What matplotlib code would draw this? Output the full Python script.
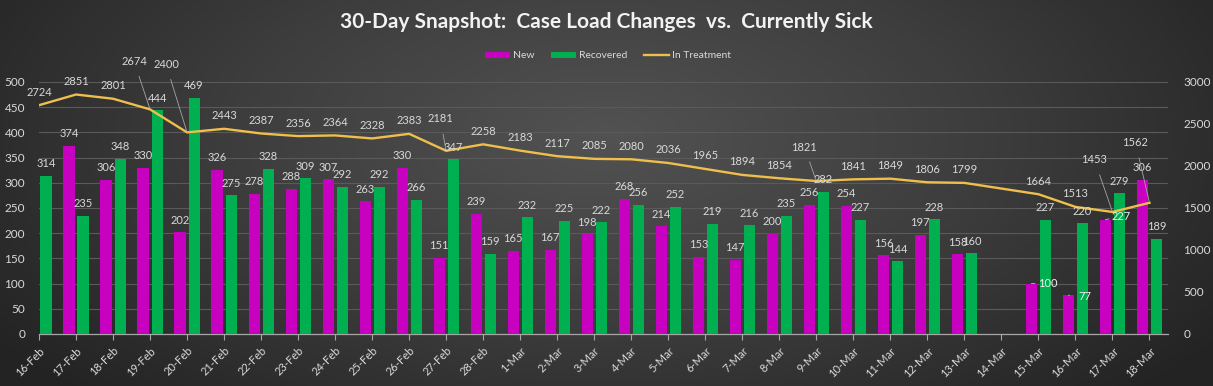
import numpy as np
import matplotlib
matplotlib.use("Agg")
import matplotlib.pyplot as plt
from matplotlib.colors import LinearSegmentedColormap
from matplotlib.patches import Patch
from matplotlib.lines import Line2D

# ---------------- data ----------------
dates = ["16-Feb", "17-Feb", "18-Feb", "19-Feb", "20-Feb", "21-Feb", "22-Feb", "23-Feb",
         "24-Feb", "25-Feb", "26-Feb", "27-Feb", "28-Feb", "1-Mar", "2-Mar", "3-Mar",
         "4-Mar", "5-Mar", "6-Mar", "7-Mar", "8-Mar", "9-Mar", "10-Mar", "11-Mar",
         "12-Mar", "13-Mar", "14-Mar", "15-Mar", "16-Mar", "17-Mar", "18-Mar"]
new_cases = [np.nan, 374, 306, 330, 202, 326, 278, 288, 307, 263, 330, 151, 239, 165, 167, 198,
             268, 214, 153, 147, 200, 256, 254, 156, 197, 158, np.nan, 100, 77, 227, 306]
recovered = [314, 235, 348, 444, 469, 275, 328, 309, 292, 292, 266, 347, 159, 232, 225, 222,
             256, 252, 219, 216, 235, 282, 227, 144, 228, 160, np.nan, 227, 220, 279, 189]
in_treatment = [2724, 2851, 2801, 2674, 2400, 2443, 2387, 2356, 2364, 2328, 2383, 2181, 2258,
                2183, 2117, 2085, 2080, 2036, 1965, 1894, 1854, 1821, 1841, 1849, 1806, 1799,
                np.nan, 1664, 1513, 1453, 1562]

# label placement tweaks (pixel offsets), styling only
line_label_offsets = {3: (-16, 48), 4: (-21, 68), 11: (-6, 32), 21: (-12, 34),
                      29: (-18, 52), 30: (-14, 60)}
new_label_offsets = {27: (16, 0), 28: (16, -1), 29: (16, 3)}

# ---------------- style ----------------
C_NEW = "#c800c0"
C_REC = "#00b050"
C_LINE = "#eebf4c"
C_TEXT = "#d9d9d9"
C_GRID = "#5a5a5a"
FONT = ["Lato", "DejaVu Sans"]
plt.rcParams["font.family"] = FONT

W, H, DPI = 1213, 386, 100
fig = plt.figure(figsize=(W / DPI, H / DPI), dpi=DPI)

# background radial gradient
bg = fig.add_axes([0, 0, 1, 1], zorder=-10)
yy, xx = np.mgrid[0:H, 0:W]
cx, cy = W * 0.5, H * 0.35
r = np.sqrt(((xx - cx) / (W * 0.62)) ** 2 + ((yy - cy) / (H * 0.95)) ** 2)
r = np.clip(r, 0, 1)
cmap_bg = LinearSegmentedColormap.from_list("bg", ["#525252", "#3d3d3d", "#232323"])
bg.imshow(r, cmap=cmap_bg, aspect="auto", extent=[0, 1, 0, 1], origin="upper")
bg.axis("off")

left, right, bottom, top = 39 / W, 1168 / W, 1 - 334 / H, 1 - 82 / H
ax = fig.add_axes([left, bottom, right - left, top - bottom])
ax.patch.set_visible(False)
ax2 = ax.twinx()
ax2.patch.set_visible(False)

x = np.arange(len(dates))
new_arr = np.array(new_cases, dtype=float)
rec_arr = np.array(recovered, dtype=float)
trt_arr = np.array(in_treatment, dtype=float)

bw = 0.30
off = 0.19
ax.bar(x - off, new_arr, bw, color=C_NEW, zorder=3)
ax.bar(x + off, rec_arr, bw, color=C_REC, zorder=3)

mask = ~np.isnan(trt_arr)
ax2.plot(x[mask], trt_arr[mask], color=C_LINE, lw=1.7, zorder=4, solid_joinstyle="round")

ax.set_xlim(0, 30.5)
ax.set_ylim(0, 500)
ax2.set_ylim(0, 3000)
ax.set_yticks(np.arange(0, 501, 50))
ax2.set_yticks(np.arange(0, 3001, 500))
ax.grid(axis="y", color=C_GRID, lw=0.8, zorder=0)
ax.set_axisbelow(True)

for a in (ax, ax2):
    for s in a.spines.values():
        s.set_visible(False)
ax.spines["bottom"].set_visible(True)
ax.spines["bottom"].set_color("#a6a6a6")
ax.spines["bottom"].set_linewidth(0.9)

ax.set_xticks(x)
ax.set_xticklabels(dates, rotation=45, ha="right", rotation_mode="anchor",
                   fontsize=8, color=C_TEXT)
ax.tick_params(axis="x", length=4, width=0.8, color="#a6a6a6", pad=4)
ax.tick_params(axis="y", length=0, labelsize=8.5, labelcolor=C_TEXT, pad=10)
ax2.tick_params(axis="y", length=0, labelsize=8.5, labelcolor=C_TEXT, pad=11)

# bar labels
for i in range(len(x)):
    if not np.isnan(new_arr[i]):
        dx, dy = new_label_offsets.get(i, (0, 12))
        kw = {}
        if i in new_label_offsets:
            kw["arrowprops"] = dict(arrowstyle="-", color="#bfbfbf", lw=0.6,
                                    shrinkA=4, shrinkB=0)
        ax2.annotate(f"{int(new_arr[i])}", xy=(x[i] - off, new_arr[i]), xycoords=ax.transData,
                     xytext=(dx, dy), textcoords="offset pixels", ha="center", va="center",
                     fontsize=8, color="#f0f0f0" if i in new_label_offsets else C_TEXT,
                     zorder=6, **kw)
    if not np.isnan(rec_arr[i]):
        ax2.annotate(f"{int(rec_arr[i])}", xy=(x[i] + off, rec_arr[i]), xycoords=ax.transData,
                     xytext=(0, 12), textcoords="offset pixels", ha="center", va="center",
                     fontsize=8, color=C_TEXT, zorder=6)

# line labels
for i in range(len(x)):
    if np.isnan(trt_arr[i]):
        continue
    dx, dy = line_label_offsets.get(i, (0, 13))
    kw = {}
    if i in line_label_offsets:
        kw["arrowprops"] = dict(arrowstyle="-", color="#a6a6a6", lw=0.6, shrinkA=5, shrinkB=1)
    ax2.annotate(f"{int(trt_arr[i])}", xy=(x[i], trt_arr[i]), xytext=(dx, dy),
                 textcoords="offset pixels", ha="center", va="center", fontsize=8,
                 color=C_TEXT, zorder=6, **kw)

fig.text(0.5, 1 - 22 / H, "30-Day Snapshot:  Case Load Changes  vs.  Currently Sick",
         ha="center", va="center", fontsize=15, fontweight="bold", color="#f2f2f2")

handles = [Patch(facecolor=C_NEW, edgecolor="none"),
           Patch(facecolor=C_REC, edgecolor="none"),
           Line2D([0], [0], color=C_LINE, lw=1.7)]
leg = fig.legend(handles, ["New", "Recovered", "In Treatment"], loc="center",
                 bbox_to_anchor=(608 / W, 1 - 56 / H), ncol=3, frameon=False,
                 fontsize=7.5, handlelength=2.4, handleheight=0.6, handletextpad=0.3,
                 columnspacing=1.6)
for t in leg.get_texts():
    t.set_color(C_TEXT)

fig.savefig("out.png", dpi=DPI)
